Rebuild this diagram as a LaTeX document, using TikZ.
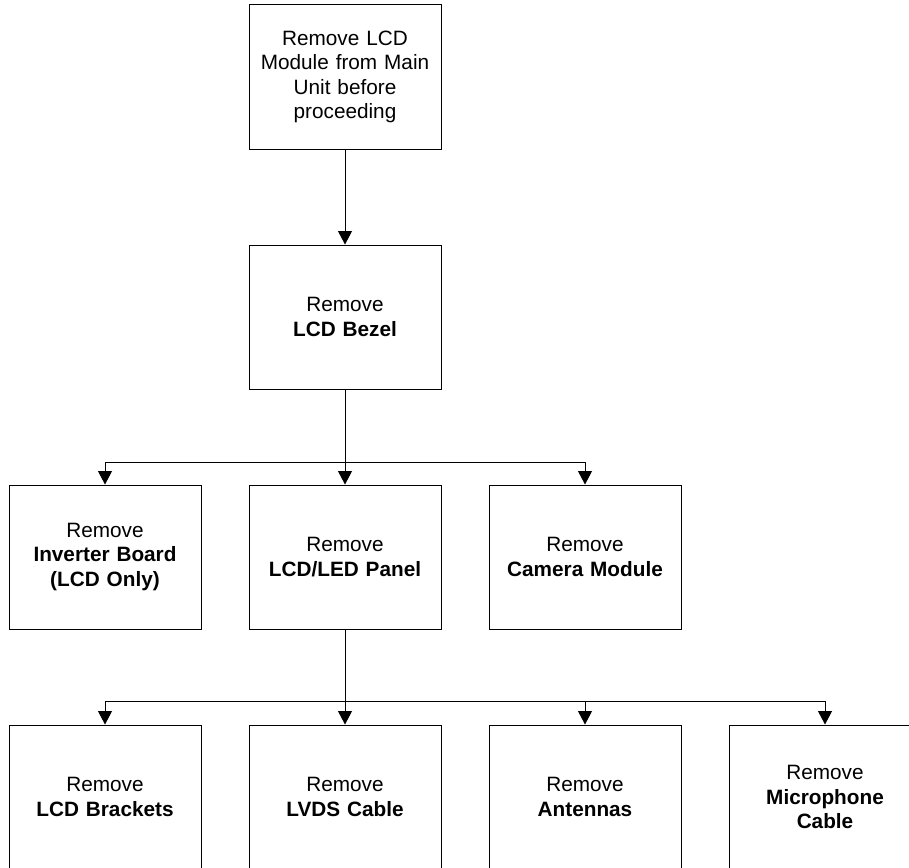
\documentclass[tikz,border=0pt]{standalone}
\usepackage{fontspec}
\setmainfont{Liberation Sans}
\usetikzlibrary{arrows.meta}
\begin{document}
\begin{tikzpicture}[x=1pt,y=-1pt,
  stepbox/.style={draw=black, line width=1pt, minimum width=192pt, minimum height=144pt, inner sep=0pt, align=center, text width=186pt, font=\fontsize{20.75}{24.5}\selectfont},
  conn/.style={line width=1pt, draw=black},
  arr/.style={conn, -{Triangle[length=13.5pt,width=14pt]}}]
\useasboundingbox (0,0) rectangle (909,867);
\clip (0,0) rectangle (909,867);
\node[stepbox] (top) at (345,77) {Remove LCD\\Module from Main\\Unit before\\proceeding};
\node[stepbox] (bezel) at (345,317) {Remove\\\textbf{LCD Bezel}};
\node[stepbox] (inv) at (105,557) {Remove\\\textbf{Inverter Board}\\\textbf{(LCD Only)}};
\node[stepbox] (panel) at (345,557) {Remove\\\textbf{LCD/LED Panel}};
\node[stepbox] (cam) at (585,557) {Remove\\\textbf{Camera Module}};
\node[stepbox] (brk) at (105,797) {Remove\\\textbf{LCD Brackets}};
\node[stepbox] (lvds) at (345,797) {Remove\\\textbf{LVDS Cable}};
\node[stepbox] (ant) at (585,797) {Remove\\\textbf{Antennas}};
\node[stepbox] (mic) at (825,797) {Remove\\\textbf{Microphone}\\\textbf{Cable}};
\coordinate (j1) at (345,462);
\coordinate (j2) at (345,701);
\draw[arr] (top.south) -- (bezel.north);
\draw[conn] (bezel.south) -- (j1);
\draw[arr] (j1) -| (inv.north);
\draw[arr] (j1) -| (cam.north);
\draw[arr] (j1) -- (panel.north);
\draw[conn] (panel.south) -- (j2);
\draw[arr] (j2) -| (brk.north);
\draw[arr] (j2) -- (lvds.north);
\draw[arr] (j2) -| (ant.north);
\draw[arr] (j2) -| (mic.north);
\end{tikzpicture}
\end{document}
